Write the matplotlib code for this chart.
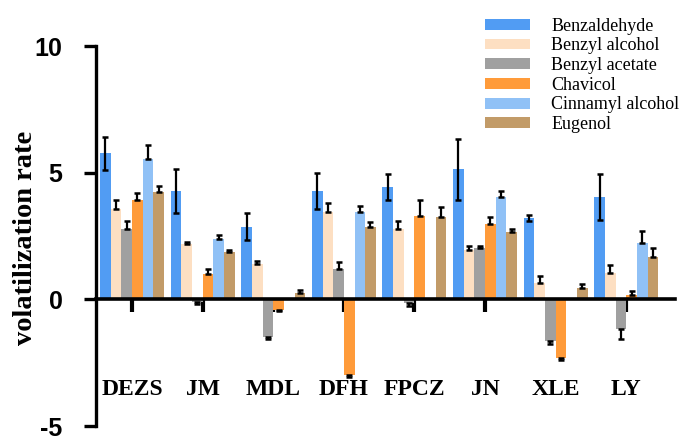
import matplotlib
matplotlib.use("Agg")
import matplotlib.pyplot as plt
import numpy as np

categories = ["DEZS", "JM", "MDL", "DFH", "FPCZ", "JN", "XLE", "LY"]
series_names = ["Benzaldehyde", "Benzyl alcohol", "Benzyl acetate", "Chavicol",
                "Cinnamyl alcohol", "Eugenol"]

benzaldehyde = [5.76, 4.28, 2.86, 4.28, 4.44, 5.13, 3.21, 4.04]
benzaldehyde_err = [0.65, 0.86, 0.53, 0.72, 0.50, 1.20, 0.11, 0.92]
benzyl_alcohol = [3.56, 2.17, 1.41, 3.43, 2.78, 1.96, 0.65, 1.04]
benzyl_alcohol_err = [0.38, 0.08, 0.10, 0.38, 0.30, 0.13, 0.27, 0.33]
benzyl_acetate = [2.79, -0.10, -1.47, 1.19, -0.15, 2.03, -1.66, -1.16]
benzyl_acetate_err = [0.29, 0.08, 0.10, 0.28, 0.10, 0.08, 0.12, 0.39]
chavicol = [3.91, 1.01, -0.43, -3.00, 3.29, 2.99, -2.32, 0.19]
chavicol_err = [0.29, 0.20, 0.05, 0.05, 0.62, 0.26, 0.07, 0.13]
cinnamyl_alcohol = [5.53, 2.40, 0.0, 3.43, 0.0, 4.04, 0.0, 2.23]
cinnamyl_alcohol_err = [0.56, 0.13, 0.0, 0.25, 0.0, 0.23, 0.0, 0.46]
eugenol = [4.23, 1.85, 0.25, 2.87, 3.25, 2.64, 0.46, 1.67]
eugenol_err = [0.24, 0.09, 0.10, 0.19, 0.40, 0.15, 0.13, 0.37]

values = [benzaldehyde, benzyl_alcohol, benzyl_acetate, chavicol, cinnamyl_alcohol, eugenol]
errors = [benzaldehyde_err, benzyl_alcohol_err, benzyl_acetate_err, chavicol_err,
          cinnamyl_alcohol_err, eugenol_err]
two_sided = [True, False, False, False, False, False]
colors = ["#519cf3", "#fddfc2", "#a0a0a0", "#ff9b3a", "#90c1f6", "#c29b68"]

W, H = 688, 436
fig = plt.figure(figsize=(W / 100, H / 100), dpi=100)
ax = fig.add_axes([96 / W, (H - 426) / H, (675 - 96) / W, (426 - 46) / H])

x = np.arange(len(categories))
bw = 0.151
for i, (vals, errs, col) in enumerate(zip(values, errors, colors)):
    pos = x + (i - 2.5) * bw
    vals = np.array(vals)
    errs = np.array(errs)
    ax.bar(pos, vals, width=bw, color=col, label=series_names[i], zorder=2)
    up = np.where(vals >= 0, errs, errs if two_sided[i] else 0)
    lo = np.where(vals < 0, errs, errs if two_sided[i] else 0)
    mask = np.abs(vals) > 0
    ax.errorbar(pos[mask], vals[mask], yerr=[lo[mask], up[mask]], fmt="none",
                ecolor="black", elinewidth=1.6, capsize=2.5, capthick=1.8, zorder=3)

ax.set_xlim(-0.51, 7.69)
ax.set_ylim(-5, 10)
for s in ["top", "right"]:
    ax.spines[s].set_visible(False)
ax.spines["bottom"].set_position(("data", 0))
ax.spines["bottom"].set_linewidth(2.6)
ax.spines["left"].set_linewidth(2.4)
ax.spines["bottom"].set_zorder(4)

ax.set_yticks([-5, 0, 5, 10])
ax.set_yticklabels(["-5", "0", "5", "10"], fontfamily="Liberation Sans",
                   fontweight="bold", fontsize=18)
ax.tick_params(axis="y", length=9, width=2.4, pad=15)
ax.set_xticks(x)
ax.set_xticklabels([])
ax.tick_params(axis="x", direction="out", length=9, width=3)

for xi, lab in zip(x, categories):
    ax.text(xi, -3.55, lab, ha="center", va="center", fontfamily="Liberation Serif",
            fontweight="bold", fontsize=17)

fig.text(26 / W, 1 - 238 / H, "volatilization rate", rotation=90, ha="center",
         va="center", fontfamily="Liberation Serif", fontweight="bold", fontsize=20.5)

leg = ax.legend(loc="upper left", bbox_to_anchor=(472 / W, 1 - 5 / H),
                bbox_transform=fig.transFigure, frameon=False,
                prop={"family": "Liberation Serif", "size": 13},
                handlelength=2.5, handleheight=0.55, handletextpad=1.2,
                labelspacing=0.15, borderpad=0.2)

fig.savefig("out.png", dpi=100)
